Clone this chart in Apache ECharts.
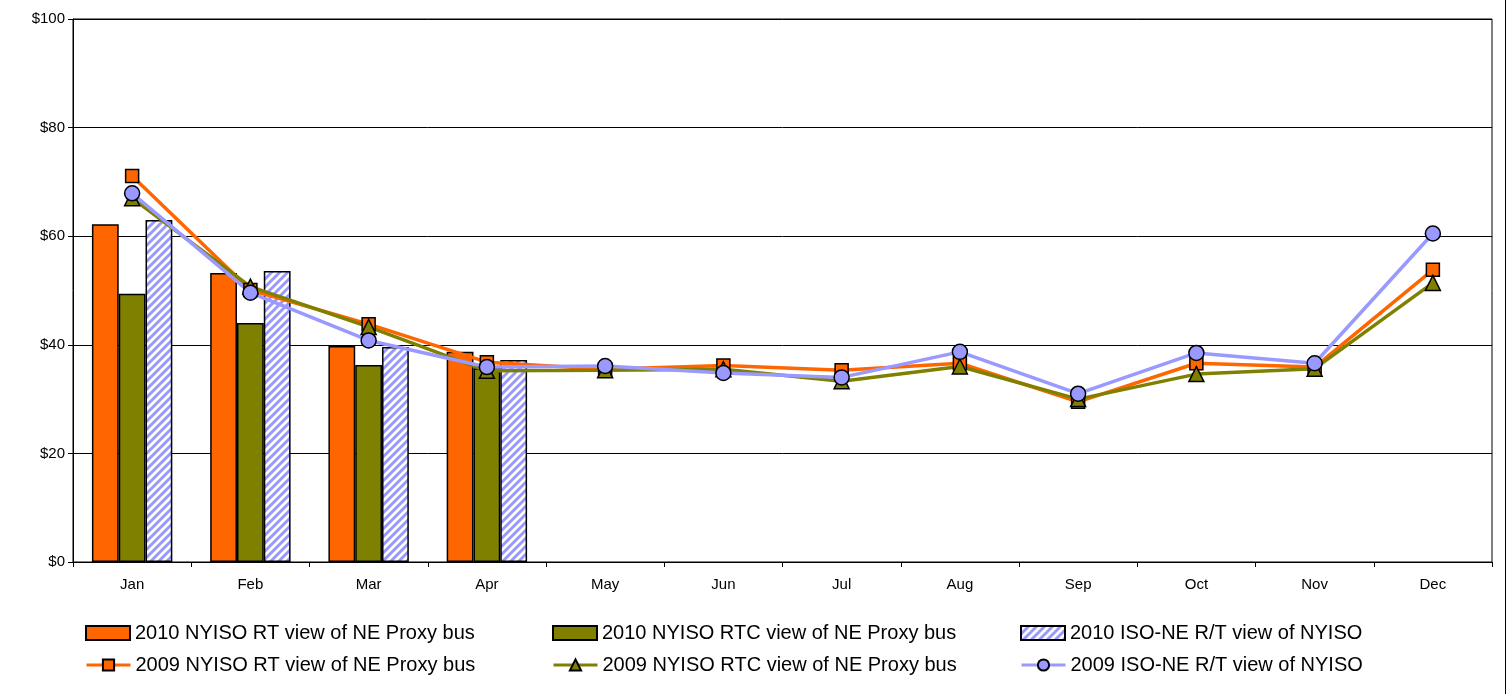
<!DOCTYPE html>
<html>
<head>
<meta charset="utf-8">
<script src="https://cdn.jsdelivr.net/npm/echarts@6/dist/echarts.min.js"></script>
<style>
  html, body { margin: 0; padding: 0; background: #fff; }
  #chart { width: 1507px; height: 694px; }
</style>
</head>
<body>
<div id="chart"></div>
<script>
// data
const months = ['Jan', 'Feb', 'Mar', 'Apr', 'May', 'Jun', 'Jul', 'Aug', 'Sep', 'Oct', 'Nov', 'Dec'];
const yTicks = [0, 20, 40, 60, 80, 100];

const rt2010 = [62.2, 53.2, 39.8, 38.7];
const rtc2010 = [49.4, 44.0, 36.3, 35.7];
const isone2010 = [63.0, 53.6, 39.6, 37.2];

const rt2009 = [71.1, 50.1, 43.8, 36.8, 35.5, 36.2, 35.3, 36.6, 29.5, 36.6, 35.9, 53.8];
const rtc2009 = [67.0, 50.7, 43.3, 35.2, 35.3, 35.5, 33.3, 36.0, 30.0, 34.6, 35.6, 51.4];
const isone2009 = [67.9, 49.6, 40.8, 35.9, 36.1, 34.8, 34.0, 38.7, 31.0, 38.5, 36.6, 60.5];

const names = [
  '2010 NYISO RT view of NE Proxy bus',
  '2010 NYISO RTC view of NE Proxy bus',
  '2010 ISO-NE R/T view of NYISO',
  '2009 NYISO RT view of NE Proxy bus',
  '2009 NYISO RTC view of NE Proxy bus',
  '2009 ISO-NE R/T view of NYISO'
];

// diagonal hatch for the ISO-NE bars
function hatch() {
  const c = document.createElement('canvas');
  c.width = 8; c.height = 8;
  const g = c.getContext('2d');
  g.fillStyle = '#fff';
  g.fillRect(0, 0, 8, 8);
  g.strokeStyle = '#9999ff';
  g.lineWidth = 3;
  g.beginPath();
  g.moveTo(-2, 10); g.lineTo(10, -2);
  g.moveTo(-6, 6); g.lineTo(6, -6);
  g.moveTo(2, 14); g.lineTo(14, 2);
  g.stroke();
  return c;
}

const chart = echarts.init(document.getElementById('chart'));

const font = 'Liberation Sans, Arial, sans-serif';
const legendBase = {
  orient: 'horizontal',
  padding: 0,
  itemWidth: 44,
  itemHeight: 14,
  lineStyle: { width: 3 },
  textStyle: { fontFamily: font, fontSize: 20, color: '#000' }
};
const cols = [85, 552, 1020];
const rows = [623, 655];
const legends = names.map((n, i) => Object.assign({}, legendBase, {
  data: [n],
  left: cols[i % 3],
  top: rows[Math.floor(i / 3)],
  icon: i < 3 ? 'rect' : undefined
}));

const barStyle = (c) => ({ color: c, borderColor: '#000', borderWidth: 1.5 });
const lineSeries = (name, data, color, symbol, size) => ({
  name: name,
  type: 'line',
  data: data,
  symbol: symbol,
  symbolSize: size,
  lineStyle: { color: color, width: 3.5 },
  itemStyle: { color: color, borderColor: '#000', borderWidth: 1.5 }
});

chart.setOption({
  animation: false,
  backgroundColor: '#fff',
  grid: {
    left: 73, right: 15, top: 19, bottom: 132,
    show: true, borderColor: '#000', borderWidth: 1
  },
  legend: legends,
  xAxis: {
    type: 'category',
    data: months,
    axisLine: { lineStyle: { color: '#000', width: 1 } },
    axisTick: { show: true, length: 5, lineStyle: { color: '#000' } },
    axisLabel: { fontFamily: font, fontSize: 15, color: '#000', margin: 15 }
  },
  yAxis: {
    type: 'value',
    min: yTicks[0],
    max: yTicks[yTicks.length - 1],
    interval: 20,
    axisLine: { show: true, lineStyle: { color: '#000' } },
    axisTick: { show: true, length: 5, lineStyle: { color: '#000' } },
    axisLabel: { fontFamily: font, fontSize: 15, color: '#000', margin: 8, formatter: v => '$' + v },
    splitLine: { lineStyle: { color: '#000', width: 1 } }
  },
  series: [
    { name: names[0], type: 'bar', data: rt2010, barGap: 0, barCategoryGap: '32%', itemStyle: barStyle('#ff6600') },
    { name: names[1], type: 'bar', data: rtc2010, barGap: 0, barCategoryGap: '32%', itemStyle: barStyle('#808000') },
    { name: names[2], type: 'bar', data: isone2010, barGap: 0, barCategoryGap: '32%',
      itemStyle: { color: { image: hatch(), repeat: 'repeat' }, borderColor: '#000', borderWidth: 1.5 } },
    lineSeries(names[3], rt2009, '#ff6600', 'rect', 13),
    lineSeries(names[4], rtc2009, '#808000', 'triangle', 15),
    lineSeries(names[5], isone2009, '#9999ff', 'circle', 15)
  ],
  graphic: [{
    type: 'line',
    shape: { x1: 1505.5, y1: 0, x2: 1505.5, y2: 694 },
    style: { stroke: '#000', lineWidth: 1 }
  }]
});
</script>
</body>
</html>
